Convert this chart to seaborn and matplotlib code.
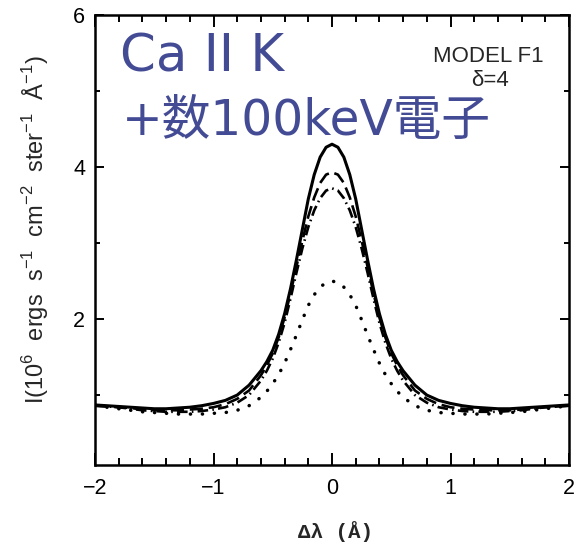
import numpy as np
import pandas as pd
import matplotlib
matplotlib.use("Agg")
import matplotlib.pyplot as plt
import seaborn as sns
from matplotlib.ticker import MultipleLocator, FixedLocator

# --- data ---
DLAMBDA = [-2.0, -1.9, -1.8, -1.7, -1.6, -1.5, -1.4, -1.3, -1.2, -1.1, -1.0,
           -0.9, -0.8, -0.7,
           -0.6, -0.55, -0.5, -0.45, -0.4, -0.35, -0.3, -0.25, -0.2, -0.15, -0.1, -0.05,
           0.0,
           0.05, 0.1, 0.15, 0.2, 0.25, 0.3, 0.35, 0.4, 0.45, 0.5, 0.55, 0.6,
           0.7, 0.8, 0.9,
           1.0, 1.1, 1.2, 1.3, 1.4, 1.5, 1.6, 1.7, 1.8, 1.9, 2.0]

I_SOLID = [0.87, 0.86, 0.85, 0.84, 0.83, 0.82, 0.82, 0.83, 0.84, 0.86, 0.89,
           0.93, 1.00, 1.13,
           1.32, 1.44, 1.59, 1.80, 2.07, 2.40, 2.78, 3.18, 3.58, 3.90, 4.13, 4.26,
           4.30,
           4.26, 4.13, 3.90, 3.58, 3.18, 2.78, 2.40, 2.07, 1.80, 1.59, 1.44, 1.32,
           1.13, 1.00, 0.93,
           0.89, 0.86, 0.84, 0.83, 0.82, 0.82, 0.83, 0.84, 0.85, 0.86, 0.87]

I_DASH = [0.86, 0.85, 0.84, 0.83, 0.81, 0.80, 0.80, 0.80, 0.81, 0.82, 0.84,
          0.88, 0.95, 1.06,
          1.26, 1.39, 1.55, 1.76, 2.02, 2.34, 2.69, 3.03, 3.35, 3.60, 3.79, 3.90,
          3.93,
          3.90, 3.79, 3.60, 3.35, 3.03, 2.69, 2.34, 2.02, 1.76, 1.55, 1.39, 1.26,
          1.06, 0.95, 0.88,
          0.84, 0.82, 0.81, 0.80, 0.80, 0.80, 0.81, 0.83, 0.84, 0.85, 0.86]

I_DASHDOT = [0.86, 0.85, 0.84, 0.82, 0.80, 0.79, 0.78, 0.78, 0.78, 0.79, 0.81,
             0.84, 0.90, 1.00,
             1.19, 1.32, 1.48, 1.69, 1.95, 2.27, 2.61, 2.93, 3.21, 3.43, 3.59, 3.69,
             3.72,
             3.69, 3.59, 3.43, 3.21, 2.93, 2.61, 2.27, 1.95, 1.69, 1.48, 1.32, 1.19,
             1.00, 0.90, 0.84,
             0.81, 0.79, 0.78, 0.78, 0.78, 0.79, 0.80, 0.82, 0.84, 0.85, 0.86]

I_DOT = [0.86, 0.84, 0.82, 0.80, 0.78, 0.77, 0.76, 0.75, 0.75, 0.75, 0.76,
         0.77, 0.80, 0.86,
         0.97, 1.05, 1.15, 1.27, 1.42, 1.60, 1.79, 1.99, 2.18, 2.32, 2.42, 2.48,
         2.50,
         2.48, 2.42, 2.32, 2.18, 1.99, 1.79, 1.60, 1.42, 1.27, 1.15, 1.05, 0.97,
         0.86, 0.80, 0.77,
         0.76, 0.75, 0.75, 0.75, 0.76, 0.77, 0.78, 0.80, 0.82, 0.84, 0.86]

BLUE = "#434b95"

sns.set_style("ticks")
plt.rcParams['font.family'] = ['Liberation Sans', 'DejaVu Sans']
plt.rcParams['mathtext.fontset'] = 'custom'
plt.rcParams['mathtext.rm'] = 'Liberation Sans'

fig = plt.figure(figsize=(5.75, 5.51), dpi=100)
ax = fig.add_axes([95 / 575, 1 - 465 / 551, (569 - 95) / 575, (465 - 15) / 551])

curves = [
    (I_SOLID, dict(linestyle='-', linewidth=2.2)),
    (I_DASH, dict(linestyle=(0, (5, 2.2)), linewidth=1.9)),
    (I_DASHDOT, dict(linestyle=(0, (4, 1.6, 0.6, 1.6)), linewidth=1.9)),
    (I_DOT, dict(linestyle=(0, (0.05, 3.4)), linewidth=2.5, dash_capstyle='round')),
]
for vals, kw in curves:
    df = pd.DataFrame({"dl": DLAMBDA, "I": vals})
    sns.lineplot(data=df, x="dl", y="I", color="black", ax=ax, **kw)

ax.set_xlim(-2, 2)
ax.set_ylim(0.08, 6)
ax.xaxis.set_major_locator(MultipleLocator(1))
ax.xaxis.set_minor_locator(MultipleLocator(0.2))
ax.yaxis.set_major_locator(FixedLocator([2, 4, 6]))
ax.yaxis.set_minor_locator(FixedLocator([1, 3, 5]))
ax.tick_params(axis='both', which='both', direction='in', top=True, right=True,
               width=1.4, labelsize=15.5, colors='black')
ax.tick_params(axis='x', which='major', length=8.6, pad=9)
ax.tick_params(axis='x', which='minor', length=4.8)
ax.tick_params(axis='y', which='major', length=6.5, pad=7)
ax.tick_params(axis='y', which='minor', length=3.8)
for s in ax.spines.values():
    s.set_linewidth(1.8)
    s.set_color('black')

ax.set_xlabel("")
ax.set_ylabel("")
fig.text(336 / 575, 1 - 532 / 551, "\u0394\u03bb (\u00c5)", ha='center', va='center',
         fontsize=15, fontweight='bold', family=['Liberation Mono', 'DejaVu Sans Mono'])
fig.text(36 / 575, 1 - 230 / 551,
         r"I(10$^{6}$  ergs  s$^{-1}$  cm$^{-2}$  ster$^{-1}$  Å$^{-1}$)",
         rotation=90, ha='center', va='center', fontsize=17)

fig.text(488 / 575, 1 - 56 / 551, "MODEL F1", ha='center', va='center', fontsize=16)
fig.text(490 / 575, 1 - 80 / 551, "\u03b4=4", ha='center', va='center', fontsize=16)

fig.text(120 / 575, 1 - 57 / 551, "Ca II K", ha='left', va='center', color=BLUE,
         fontsize=37, family=['DejaVu Sans', 'Noto Sans CJK JP'])
fig.text(122 / 575, 1 - 121 / 551, "+数100keV電子", ha='left', va='center', color=BLUE,
         fontsize=35, family=['DejaVu Sans', 'Noto Sans CJK JP'])

fig.savefig("out.png", dpi=100)
